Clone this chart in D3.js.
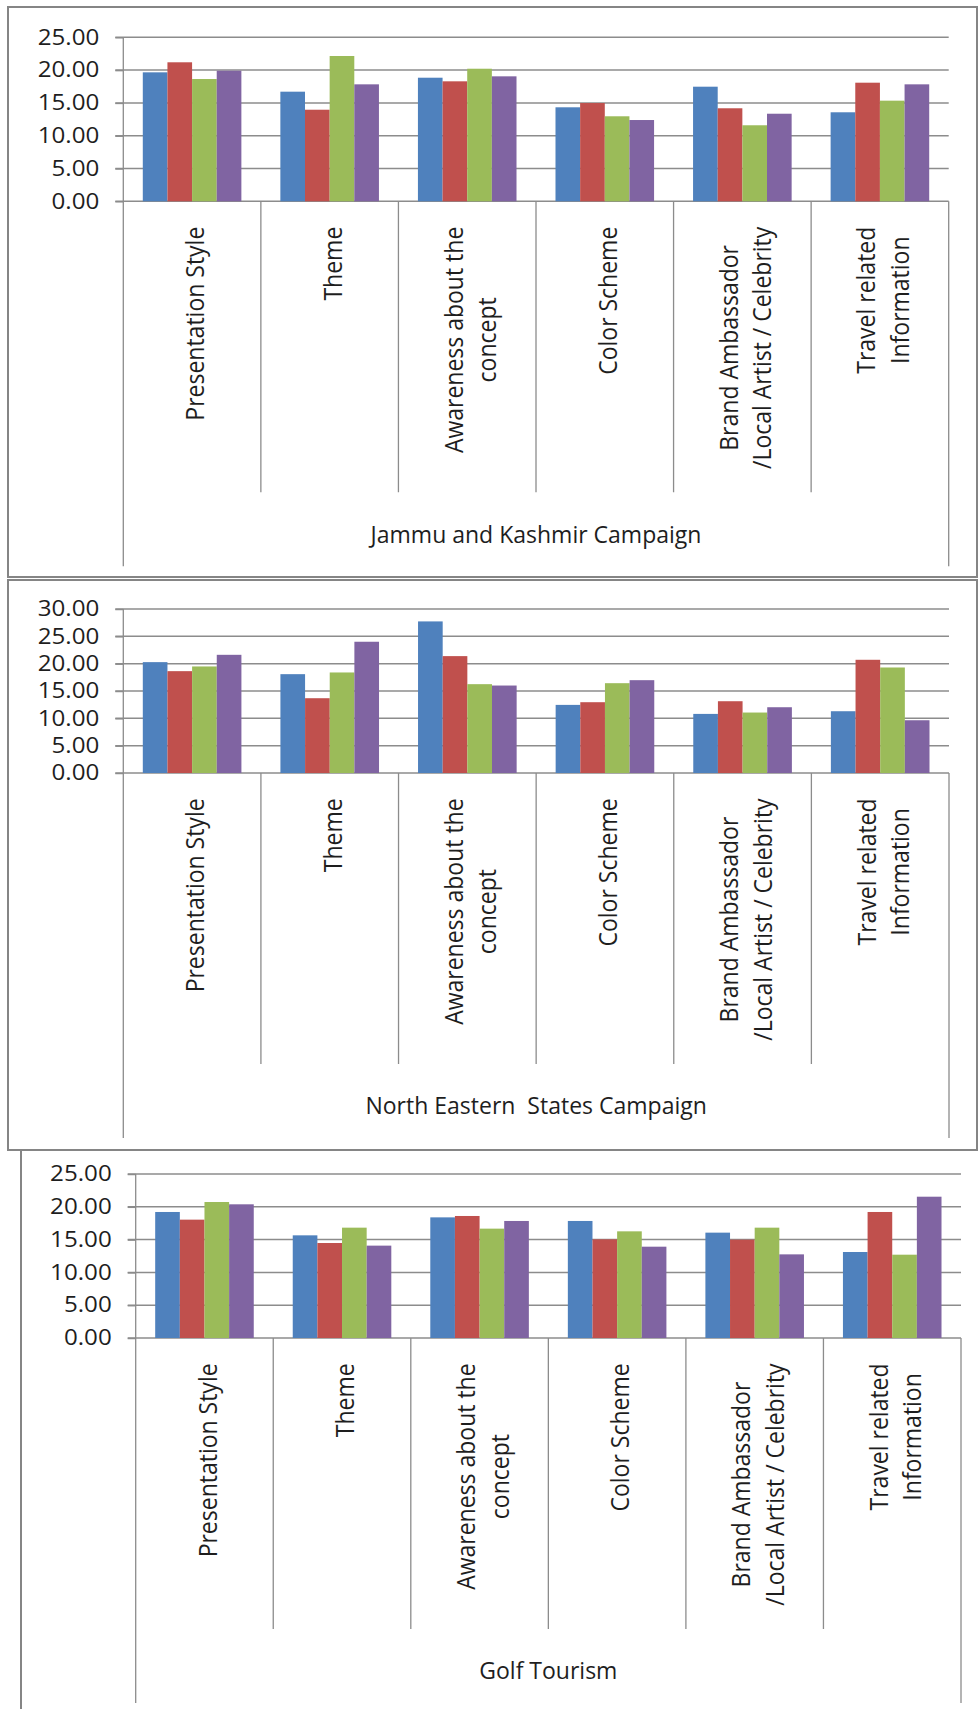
<!DOCTYPE html>
<html>
<head>
<meta charset="utf-8">
<script src="https://cdn.jsdelivr.net/npm/d3@7"></script>
<style>
body{margin:0;background:#fff;}
svg{display:block;}
text{font-family:"Open Sans",sans-serif;fill:#1e1e1e;}
</style>
</head>
<body>
<svg width="978" height="1709"></svg>
<script>
// categories (each entry = the lines of the wrapped label)
const categories=[
  ["Presentation Style"],
  ["Theme"],
  ["Awareness about the","concept"],
  ["Color Scheme"],
  ["Brand Ambassador","/Local Artist / Celebrity"],
  ["Travel related","Information"]
];
const seriesColors=["#4f81bd","#c0504d","#9bbb59","#8064a2"];

// one row per category, four series each
const jammuKashmir=[
  [19.66,21.19,18.64,19.91],
  [16.71,13.96,22.15,17.83],
  [18.84,18.29,20.21,19.05],
  [14.33,14.98,12.96,12.39],
  [17.47,14.18,11.59,13.35],
  [13.57,18.08,15.34,17.83]
];
const northEastern=[
  [20.28,18.63,19.49,21.62],
  [18.08,13.68,18.39,24.01],
  [27.73,21.38,16.25,16.00],
  [12.46,12.95,16.43,16.98],
  [10.81,13.13,11.06,12.03],
  [11.30,20.71,19.30,9.65]
];
const golfTourism=[
  [19.21,18.04,20.73,20.38],
  [15.65,14.48,16.82,14.08],
  [18.39,18.60,16.67,17.84],
  [17.84,15.04,16.26,13.92],
  [16.06,14.99,16.82,12.75],
  [13.11,19.21,12.70,21.54]
];
const ticks25=[0,5,10,15,20,25];
const ticks30=[0,5,10,15,20,25,30];
const titles=["Jammu and Kashmir Campaign","North Eastern  States Campaign","Golf Tourism"];

const svg=d3.select('svg');
const grey='#8c8c8c';
const plotH=164;      // 0 -> top tick
const shortDrop=291;  // inner dividers below axis
const longDrop=365;   // outer dividers below axis
const stretch=1.11;   // the original picture is a bit wider than tall

// frames round the first two charts, only a left rule for the third
svg.append('rect').attr('x',8).attr('y',7).attr('width',969).attr('height',570)
   .attr('fill','none').attr('stroke','#858585').attr('stroke-width',2);
svg.append('rect').attr('x',8).attr('y',580).attr('width',969).attr('height',570)
   .attr('fill','none').attr('stroke','#858585').attr('stroke-width',2);
svg.append('line').attr('x1',21).attr('x2',21).attr('y1',1150).attr('y2',1709)
   .attr('stroke','#858585').attr('stroke-width',2);

function panel(values,ticks,title,left,right,base){
  const g=svg.append('g');
  const x=d3.scaleBand().domain(d3.range(categories.length)).range([left,right]);
  const bw=x.bandwidth();
  const gap=bw*0.1417;
  const xs=d3.scaleBand().domain(d3.range(4)).range([gap,bw-gap]);
  const y=d3.scaleLinear().domain([0,d3.max(ticks)]).range([base,base-plotH]);

  // gridlines
  g.selectAll('.grid').data(ticks).enter().append('line')
    .attr('x1',left-8).attr('x2',right)
    .attr('y1',d=>y(d)).attr('y2',d=>y(d))
    .attr('stroke',grey).attr('stroke-width',1.5);

  // y axis labels
  const ax=g.append('g').attr('transform',`translate(${left},0)`)
    .call(d3.axisLeft(y).tickValues(ticks).tickFormat(d3.format('.2f')).tickSize(8).tickPadding(16));
  ax.select('.domain').remove();
  ax.selectAll('line').attr('stroke',grey).attr('stroke-width',1.5);
  ax.selectAll('text').attr('font-size',21).attr('font-family','"Open Sans",sans-serif').attr('fill','#1e1e1e')
    .each(function(){
      d3.select(this).attr('textLength',this.getComputedTextLength()*1.15).attr('lengthAdjust','spacingAndGlyphs');
    });

  // bars
  const cat=g.selectAll('.cat').data(values).enter().append('g')
    .attr('transform',(d,i)=>`translate(${x(i)},0)`);
  cat.selectAll('rect').data(d=>d).enter().append('rect')
    .attr('x',(d,j)=>xs(j)).attr('width',xs.bandwidth())
    .attr('y',d=>y(d)).attr('height',d=>base-y(d))
    .attr('fill',(d,j)=>seriesColors[j]);

  // category dividers below the axis
  const edges=d3.range(categories.length+1).map(i=>i<categories.length?x(i):right);
  g.selectAll('.div').data(edges).enter().append('line')
    .attr('x1',d=>d).attr('x2',d=>d)
    .attr('y1',(d,i)=>i===0?base-plotH:base)
    .attr('y2',(d,i)=>(i===0||i===categories.length)?base+longDrop:base+shortDrop)
    .attr('stroke',grey).attr('stroke-width',1.3);

  // rotated category labels
  categories.forEach((lines,i)=>{
    const lg=g.append('g')
      .attr('transform',`translate(${x(i)+bw/2},${base+25.4}) scale(${stretch},1) rotate(-90)`);
    const t=lg.selectAll('text').data(lines).enter().append('text')
      .attr('font-size',23).attr('text-anchor','middle')
      .attr('y',(d,k)=>(k-(lines.length-1)/2)*30.2+11)
      .text(d=>d);
    let maxLen=0;
    t.each(function(){maxLen=Math.max(maxLen,this.getComputedTextLength());});
    t.attr('x',-maxLen/2);
  });

  // group title
  g.append('text').attr('x',(left+right)/2).attr('y',base+341.4)
    .attr('text-anchor','middle').attr('font-size',23)
    .style('white-space','pre')
    .text(title);
}

panel(jammuKashmir,ticks25,titles[0],123.3,948.7,201.3);
panel(northEastern,ticks30,titles[1],123.3,949,773);
panel(golfTourism,ticks25,titles[2],135.7,961,1338);
</script>
</body>
</html>
